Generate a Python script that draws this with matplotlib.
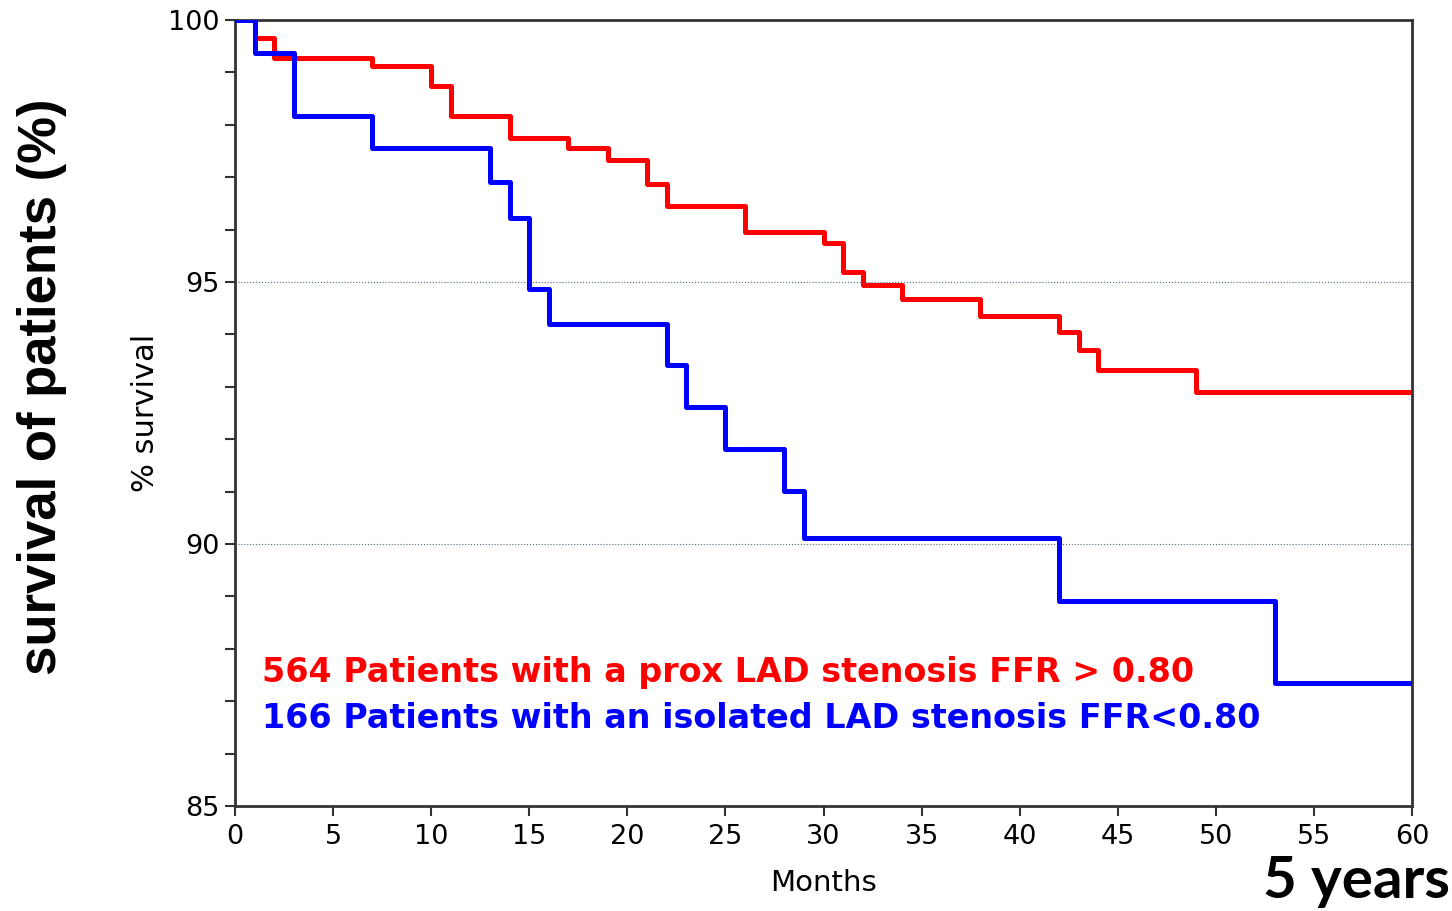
import matplotlib.pyplot as plt
from matplotlib.ticker import MultipleLocator

# Kaplan-Meier step values (months, % survival)
red_months = [0, 1, 2, 7, 10, 11, 14, 17, 19, 21, 22, 26, 30, 31, 32, 34, 38, 42, 43, 44, 49, 60]
red_surv = [100, 99.65, 99.27, 99.12, 98.74, 98.16, 97.75, 97.56, 97.33, 96.87, 96.46,
            95.96, 95.74, 95.20, 94.94, 94.67, 94.35, 94.05, 93.71, 93.32, 92.90, 92.90]

blue_months = [0, 1, 3, 7, 13, 14, 15, 16, 22, 23, 25, 28, 29, 42, 53, 60]
blue_surv = [100, 99.38, 98.16, 97.55, 96.90, 96.22, 94.86, 94.20, 93.42, 92.61,
             91.81, 91.01, 90.11, 88.91, 87.35, 87.35]

red_label = "564 Patients with a prox LAD stenosis FFR > 0.80"
blue_label = "166 Patients with an isolated LAD stenosis FFR<0.80"

x_ticks = list(range(0, 61, 5))
y_ticks = [85, 90, 95, 100]

# the chart text is a wide Arial-like face, DejaVu Sans fits its proportions
plt.rcParams['font.family'] = ['DejaVu Sans']

fig = plt.figure(figsize=(14.52, 9.11), dpi=100)
ax = fig.add_axes([0.1618, 0.1153, 0.8107, 0.8627])

# dotted reference lines
for yv in [90, 95]:
    ax.axhline(yv, color='#4a6a8a', lw=0.8, ls=':', zorder=1)

ax.plot(red_months, red_surv, drawstyle='steps-post', color='#ff0000', lw=3.6, zorder=3)
ax.plot(blue_months, blue_surv, drawstyle='steps-post', color='#0000ff', lw=3.6, zorder=4)

ax.set_xlim(0, 60)
ax.set_ylim(85, 100)
ax.set_xticks(x_ticks)
ax.set_yticks(y_ticks)
ax.yaxis.set_minor_locator(MultipleLocator(1))
ax.tick_params(axis='both', which='major', direction='out', length=7, width=1.5,
               labelsize=19.5, color='#333333', pad=4)
ax.tick_params(axis='x', which='major', pad=6)
ax.tick_params(axis='y', which='minor', direction='out', length=7, width=1.5, color='#333333')
for s in ax.spines.values():
    s.set_color('#333333')
    s.set_linewidth(2)

ax.set_xlabel('Months', fontsize=21, labelpad=14)
ax.set_ylabel('% survival', fontsize=22, labelpad=6)

# legend-like coloured labels
ax.text(0.023, 0.158, red_label, transform=ax.transAxes, color='#ff0000',
        fontsize=24, fontweight='bold', va='baseline', ha='left')
ax.text(0.023, 0.099, blue_label, transform=ax.transAxes, color='#0000ff',
        fontsize=24, fontweight='bold', va='baseline', ha='left')

# annotations added on top of the original chart
fig.text(0.029, 0.575, 'survival of patients (%)', rotation=90, fontsize=38,
         fontweight='bold', family=['Liberation Sans', 'DejaVu Sans'],
         ha='center', va='center')
fig.text(0.9986, 0.0143, '5 years', fontsize=42, fontweight='bold',
         family=['Lato', 'DejaVu Sans'], ha='right', va='baseline')

fig.savefig('out.png', dpi=100)
